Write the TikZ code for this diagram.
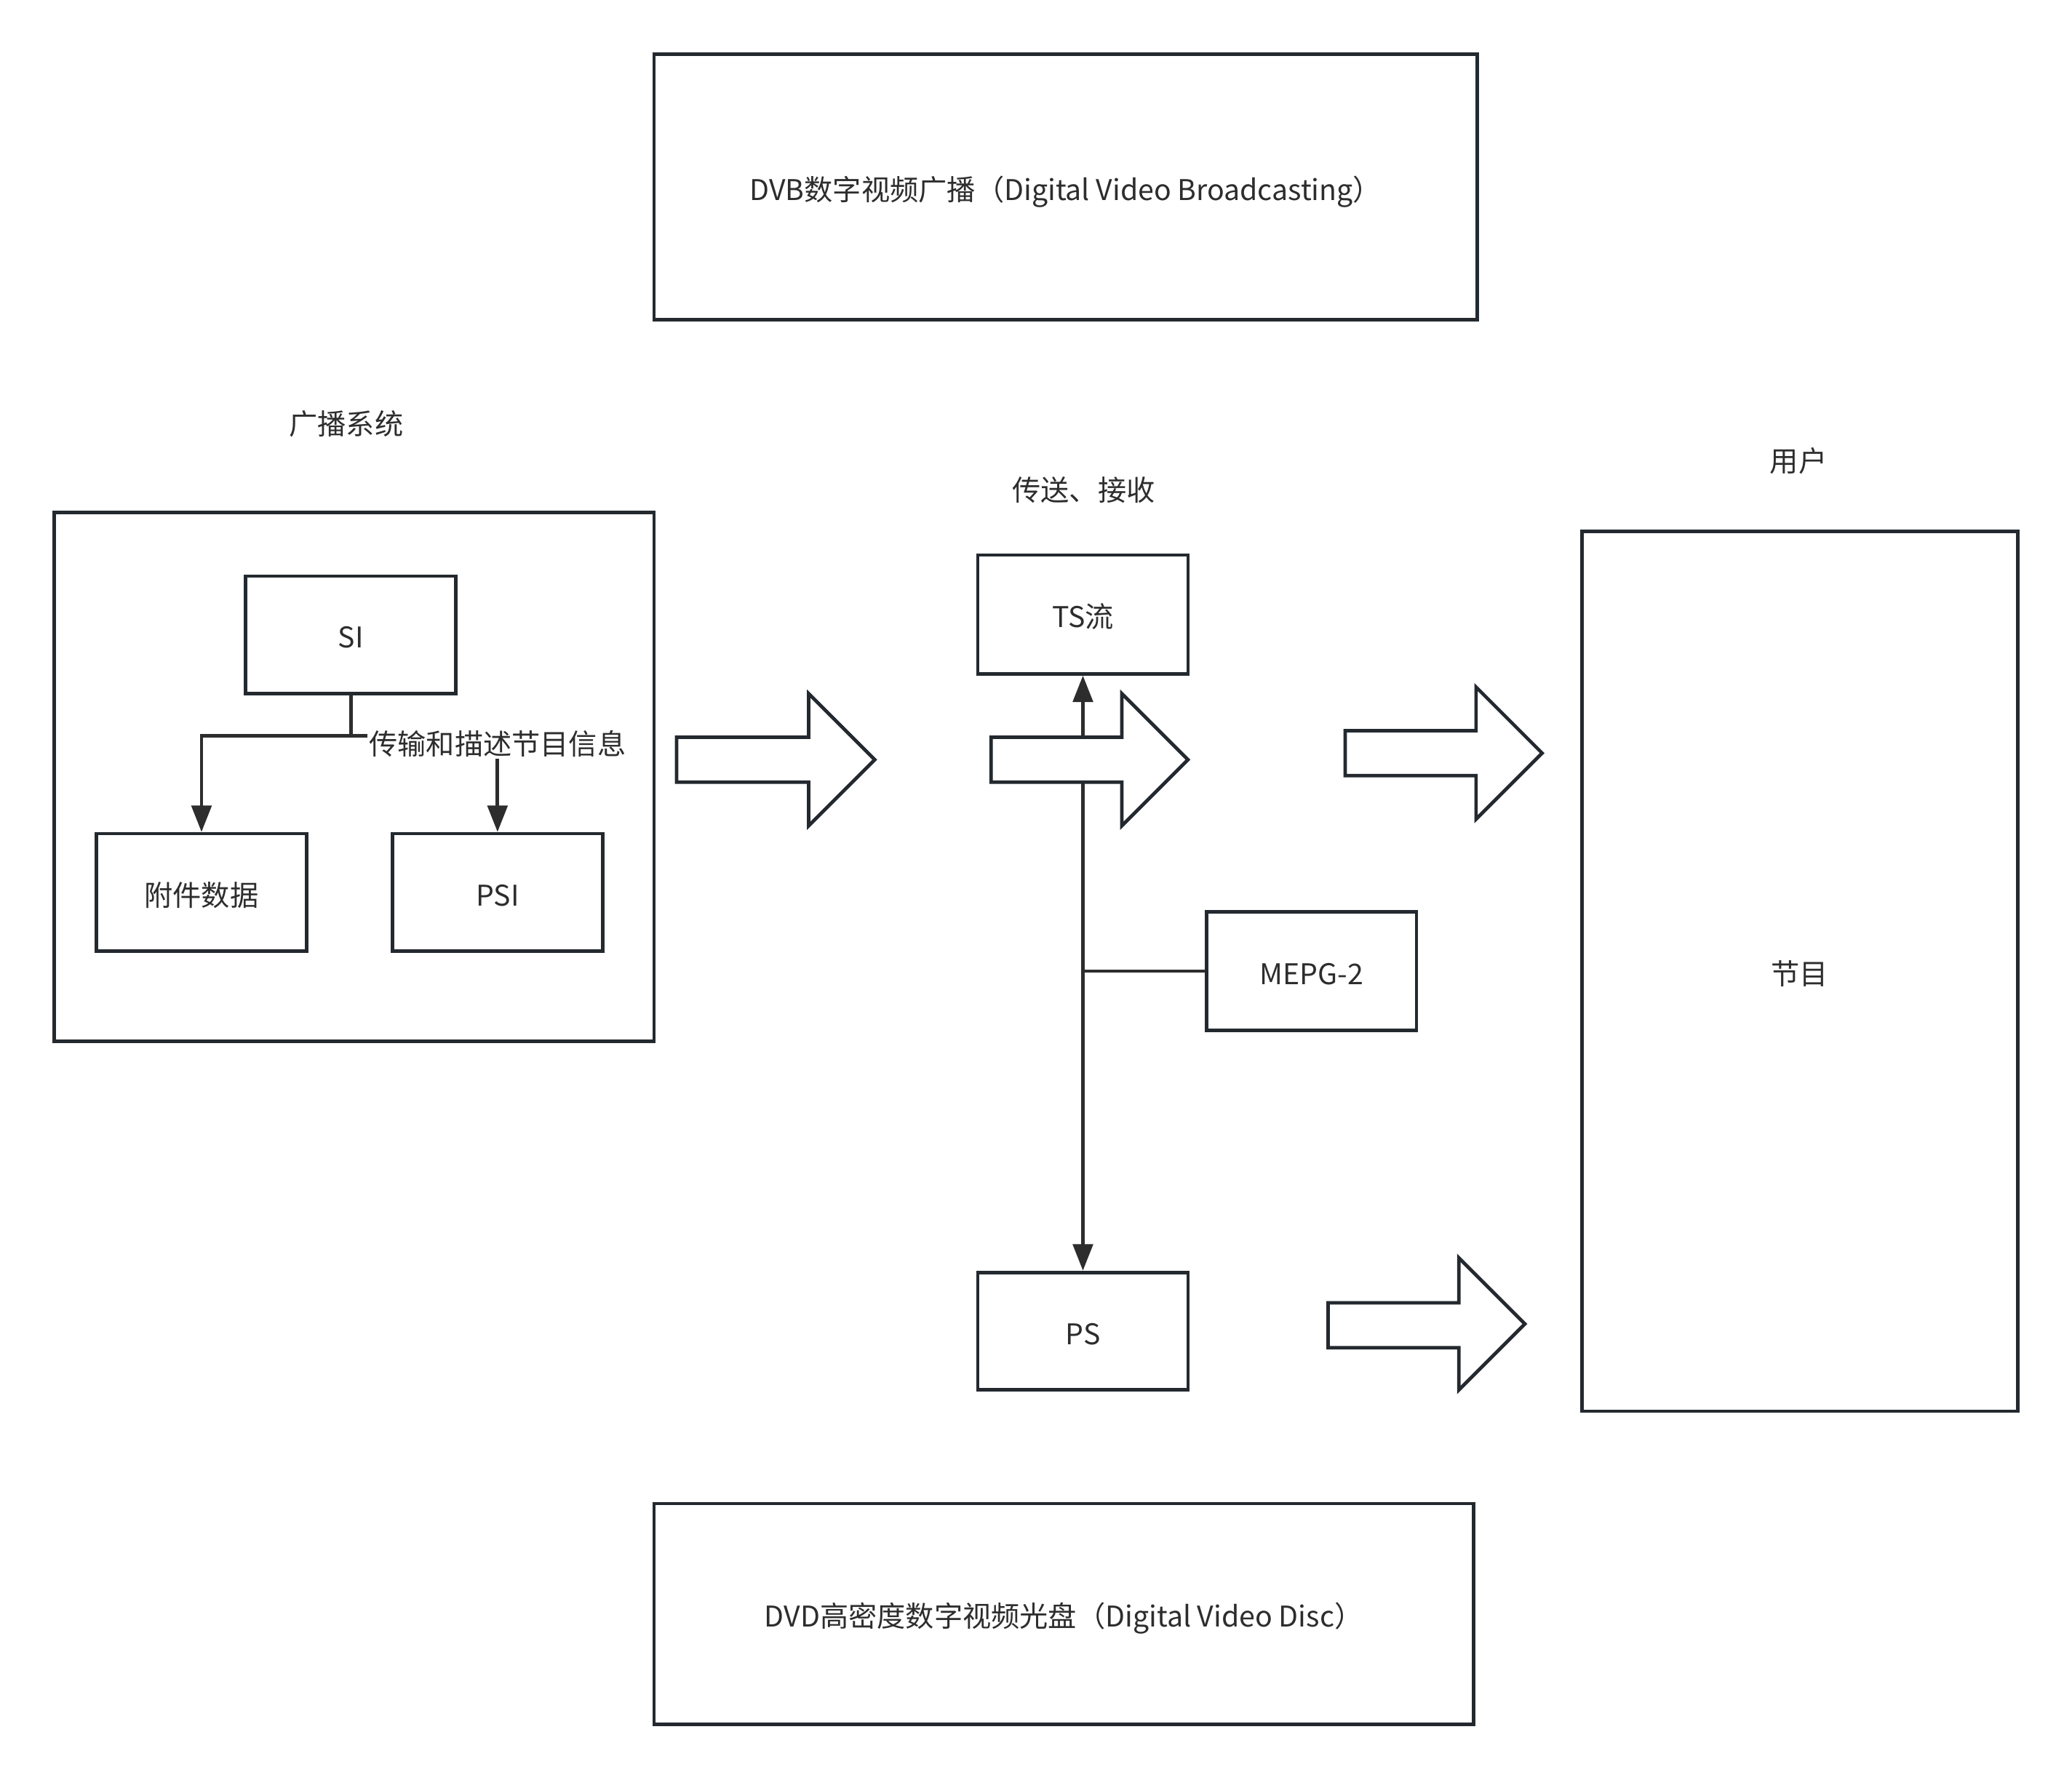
\documentclass[tikz,border=0pt]{standalone}
\usepackage{fontspec}
\setmainfont{Noto Sans CJK SC}
\usetikzlibrary{arrows.meta}
\definecolor{ln}{RGB}{35,41,47}
\definecolor{tx}{RGB}{45,45,45}
\begin{document}
\begin{tikzpicture}[x=1pt,y=-1pt,
  font=\fontsize{21.6}{26}\selectfont,
  box/.style={draw=ln, line width=2.6pt, fill=white, inner sep=0pt, text=tx, text height=22pt, text depth=2pt},
  lbl/.style={text=tx, inner sep=1pt},
  conn/.style={draw=tx, line width=2.6pt, -{Triangle[length=20pt,width=15pt]}},
  barrow/.style={draw=ln, line width=2.6pt, fill=white, line join=miter}]
\useasboundingbox (0,0) rectangle (1568,1347);

% top and bottom banners
\node[box, minimum width=623pt, minimum height=201pt] (dvb) at (806.5,141.5) {DVB数字视频广播（Digital Video Broadcasting）};
\node[box, minimum width=620pt, minimum height=167pt] (dvd) at (805,1221.5) {DVD高密度数字视频光盘（Digital Video Disc）};

% broadcasting system
\node[lbl] (gbxt) at (262,321) {广播系统};
\node[box, minimum width=454pt, minimum height=400pt] (sys) at (268,588) {};
\node[box, minimum width=159pt, minimum height=89pt] (si) at (265.5,480.5) {SI};
\node[box, minimum width=159pt, minimum height=89pt] (fj) at (152.5,675.5) {附件数据};
\node[box, minimum width=159pt, minimum height=89pt] (psi) at (376.5,675.5) {PSI};
\coordinate (jl) at (152.5,557);
\coordinate (jr) at (376.5,557);
\draw[conn] (si.south) |- (jl) -- (fj.north);
\draw[conn] (si.south) |- (jr) -- (psi.north);
\node[lbl, fill=white] (lab) at (376.5,563) {传输和描述节目信息};

% transmission / reception
\node[lbl] (cs) at (820,371) {传送、接收};
\node[box, minimum width=159pt, minimum height=90pt] (ts) at (819.5,465) {TS流};
\node[box, minimum width=159pt, minimum height=89pt] (ps) at (819.5,1007.5) {PS};
\node[box, minimum width=159pt, minimum height=90pt] (mp) at (992.5,735) {MEPG-2};
\draw[conn] (mp.west) -| (ts.south);
\draw[conn] (mp.west) -| (ps.north);

% block arrows
\draw[barrow] (512,558) -- (612,558) -- (612,525) -- (662,575) -- (612,625) -- (612,592) -- (512,592) -- cycle;
\draw[barrow] (750,558) -- (849,558) -- (849,525) -- (899,575) -- (849,625) -- (849,592) -- (750,592) -- cycle;
\draw[barrow] (1018,553) -- (1117,553) -- (1117,520) -- (1167,570) -- (1117,620) -- (1117,587) -- (1018,587) -- cycle;
\draw[barrow] (1005,986) -- (1104,986) -- (1104,952) -- (1154,1002) -- (1104,1052) -- (1104,1020) -- (1005,1020) -- cycle;

% user
\node[lbl] (yh) at (1361,349) {用户};
\node[box, minimum width=330pt, minimum height=666pt] (jm) at (1362,735) {节目};
\end{tikzpicture}
\end{document}
